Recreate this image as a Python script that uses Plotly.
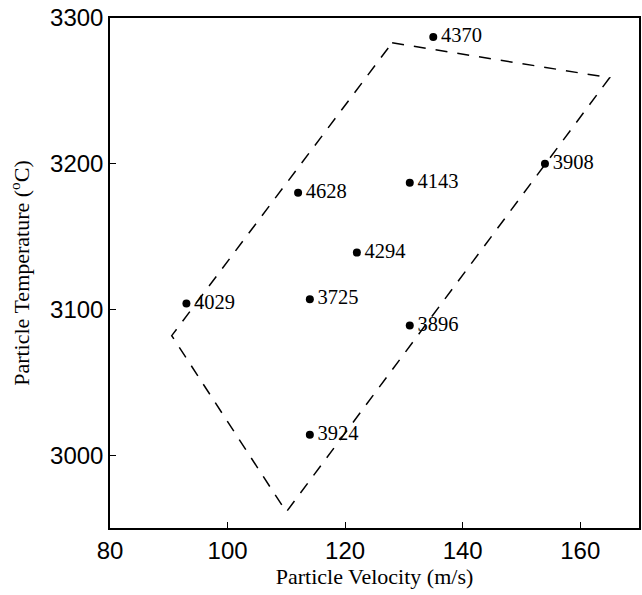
import plotly.graph_objects as go

velocity = [135, 154, 131, 112, 122, 93, 114, 131, 114]
temperature = [3287, 3200, 3187, 3180, 3139, 3104, 3107, 3089, 3014]
labels = ["4370", "3908", "4143", "4628", "4294", "4029", "3725", "3896", "3924"]

region_v = [128, 165, 110, 90.5, 128]
region_t = [3283, 3259, 2961, 3082, 3283]

x_ticks = [80, 100, 120, 140, 160]
y_ticks = [3000, 3100, 3200, 3300]

fig = go.Figure()
fig.add_trace(go.Scatter(
    x=region_v, y=region_t, mode="lines",
    line=dict(color="black", width=1.5, dash="12px,10px"),
    hoverinfo="skip", showlegend=False))
fig.add_trace(go.Scatter(
    x=velocity, y=temperature, mode="markers+text",
    marker=dict(color="black", size=8),
    text=["\u200a" + s for s in labels], textposition="middle right",
    textfont=dict(family="Liberation Serif", size=20.5, color="black"),
    showlegend=False))

axis_common = dict(
    showline=True, linecolor="black", linewidth=1.5, mirror=True,
    ticks="inside", ticklen=6, tickwidth=1, tickcolor="black",
    showgrid=False, zeroline=False,
    tickfont=dict(family="Liberation Sans", size=24, color="black"),
)
fig.update_xaxes(range=[80, 170], tickvals=x_ticks,
                 title=dict(text="Particle Velocity (m/s)",
                            font=dict(family="Liberation Serif", size=22, color="black"),
                            standoff=6),
                 **axis_common)
fig.update_yaxes(range=[2950, 3300], tickvals=y_ticks,
                 title=dict(text="Particle Temperature (<sup>o</sup>C)",
                            font=dict(family="Liberation Serif", size=22, color="black"),
                            standoff=14),
                 **axis_common)
fig.update_layout(
    width=642, height=595,
    margin=dict(l=110, r=1, t=18, b=67),
    plot_bgcolor="white", paper_bgcolor="white",
)
fig.write_html("out.html")
